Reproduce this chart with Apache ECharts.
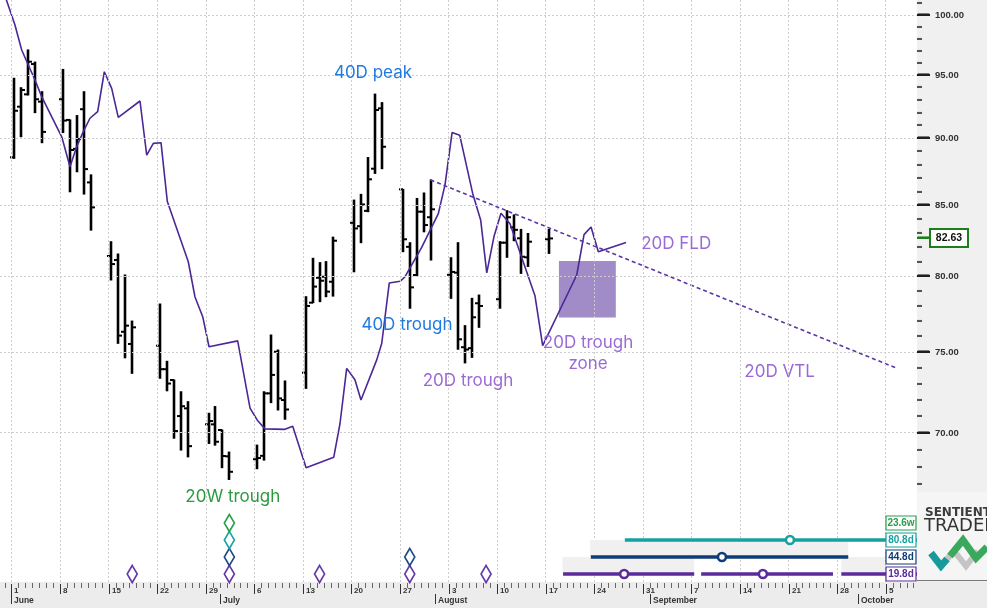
<!DOCTYPE html>
<html><head><meta charset="utf-8">
<script src="https://cdn.jsdelivr.net/npm/echarts@6/dist/echarts.min.js"></script>
<style>html,body{margin:0;padding:0;background:#fff}#c{width:987px;height:608px}</style>
</head><body><div id="c"></div>
<script>
// x values are calendar days counted from Monday 1 June (day 0)
// OHLC bars: [day, open, high, low, close]
const bars = [
 [0, 88.56, 94.74, 88.48, 92.15],
 [1, 92.47, 93.98, 90.13, 93.80],
 [2, 93.45, 97.06, 93.40, 96.09],
 [3, 95.90, 96.06, 92.00, 93.06],
 [4, 92.87, 93.66, 89.67, 90.50],
 [7, 93.06, 95.46, 90.45, 91.38],
 [8, 91.43, 91.43, 85.99, 89.11],
 [9, 89.20, 91.77, 87.47, 89.95],
 [10, 92.27, 93.66, 85.82, 87.67],
 [11, 86.68, 87.24, 83.22, 84.85],
 [14, 81.40, 82.40, 79.75, 80.84],
 [15, 81.12, 81.54, 75.55, 76.05],
 [16, 76.30, 80.09, 74.62, 76.70],
 [17, 75.51, 77.00, 73.64, 76.59],
 [21, 75.40, 78.13, 73.33, 73.90],
 [22, 73.90, 74.40, 72.55, 73.00],
 [23, 73.22, 73.22, 69.67, 70.10],
 [24, 71.00, 72.49, 68.97, 71.60],
 [25, 71.47, 71.88, 68.57, 69.20],
 [28, 70.50, 71.17, 69.36, 70.70],
 [29, 70.50, 71.58, 69.26, 69.46],
 [30, 70.16, 70.16, 67.94, 68.62],
 [31, 68.60, 68.85, 67.26, 67.70],
 [35, 68.43, 69.26, 67.88, 68.50],
 [36, 68.63, 72.49, 68.38, 72.39],
 [37, 72.39, 76.09, 71.82, 73.54],
 [38, 75.01, 75.12, 71.37, 72.08],
 [39, 71.98, 73.16, 70.81, 71.40],
 [42, 73.68, 78.62, 72.70, 78.00],
 [43, 78.22, 81.24, 78.22, 79.30],
 [44, 79.90, 80.94, 78.29, 79.70],
 [45, 79.97, 81.01, 78.62, 78.96],
 [46, 79.63, 82.72, 78.66, 82.47],
 [49, 83.74, 85.38, 80.31, 83.34],
 [50, 83.50, 85.80, 82.33, 85.06],
 [51, 84.60, 88.54, 84.54, 86.91],
 [52, 87.70, 93.47, 87.35, 92.21],
 [53, 92.34, 92.79, 87.70, 89.36],
 [56, 86.17, 86.17, 81.70, 82.57],
 [57, 82.04, 82.33, 77.85, 79.25],
 [58, 80.09, 85.50, 80.02, 84.54],
 [59, 84.54, 85.90, 83.10, 83.58],
 [60, 84.14, 86.86, 81.12, 84.71],
 [63, 80.10, 81.28, 78.51, 80.30],
 [64, 80.25, 82.33, 75.17, 75.81],
 [65, 75.30, 76.70, 74.30, 75.15],
 [66, 75.24, 78.51, 74.65, 77.25],
 [67, 78.18, 78.73, 76.59, 78.00],
 [70, 78.45, 82.40, 77.85, 82.33],
 [71, 82.33, 84.61, 81.31, 84.14],
 [72, 83.42, 84.31, 82.47, 83.24],
 [73, 82.64, 83.27, 80.20, 81.35],
 [74, 81.31, 82.98, 80.68, 82.40],
 [77, 82.57, 83.27, 81.58, 82.63]
];
const lastPrice = 82.63;

// 20D FLD line: [day, price]
const fld = [
 [-1.7, 103.0], [0.5, 99.15], [1.47, 97.06], [2.42, 95.82], [3.39, 94.6], [4.35, 93.26],
 [7.24, 90.12], [8.43, 87.85], [9.4, 89.37], [10.35, 90.52], [11.31, 91.56], [12.42, 92.08],
 [13.38, 95.27], [14.44, 93.93], [15.39, 91.63], [18.52, 92.92], [19.49, 88.73], [20.44, 89.62],
 [21.55, 89.67], [22.46, 85.27], [25.48, 81.0], [26.45, 78.6], [27.56, 77.29], [28.47, 75.33],
 [32.6, 75.71], [34.38, 71.48], [35.43, 70.75], [36.54, 70.23], [39.42, 70.2], [40.53, 70.39],
 [42.46, 67.94], [46.45, 68.55], [47.35, 70.55], [48.31, 73.95], [49.5, 73.24], [50.37, 71.98],
 [52.64, 74.49], [53.36, 75.54], [54.45, 79.55], [56.0, 79.66], [56.7, 79.96], [59.12, 82.0],
 [61.52, 84.4], [62.48, 86.5], [63.5, 90.45], [64.6, 90.25], [66.47, 85.87], [67.63, 83.92],
 [68.5, 80.24], [69.54, 82.76], [70.55, 84.43], [71.85, 83.67], [75.45, 78.68], [76.56, 75.4],
 [81.47, 80.09], [82.52, 82.9], [83.53, 83.44], [84.58, 81.7], [88.57, 82.35]
];

// 20D VTL (valid trend line) end points
const vtl = [[60.4, 86.86], [127.5, 73.98]];
// 20D trough zone: [startDay, topPrice], [endDay, bottomPrice]
const troughZone = [[78.9, 81.05], [87.1, 77.23]];

// annotations
const annoTexts = ['40D peak', '40D trough', '20D trough', '20D trough\nzone', '20D FLD', '20D VTL', '20W trough'];
const annoDays = [52.1, 57.0, 65.8, 83.1, 95.8, 110.7, 31.9];
const annoPrices = [95.16, 76.74, 73.16, 74.93, 82.24, 73.72, 66.26];
const annoColors = ['#1f7be0', '#1f7be0', '#9a6ad6', '#9a6ad6', '#9a6ad6', '#9a6ad6', '#2a9a3e'];

// cycle trough markers (diamonds), by cycle
const marks20D = [17, 31, 44, 57, 68];
const marks40D = [31, 57];
const marks80D = [31];
const marks20W = [31];

// phasing cycle ranges (bottom right)
const cycleLabels = ['19.8d', '44.8d', '80.8d', '23.6w'];
const cycleColors = ['#5b2b9c', '#0f3c78', '#17a0a0', '#27a04a'];
const cycleSegments = [[[79.5, 98.4], [99.4, 118.4], [119.6, 130.5]], [[83.5, 120.6]], [[88.4, 130.5]], []];
const cycleCircles = [[88.3, 108.3], [102.4], [112.2], []];
const cycleBands = [[[79.4, 98.4], [119.6, 125.9]], [[83.4, 120.6]], [], []];

// axis ticks
const priceTicks = [70, 75, 80, 85, 90, 95, 100];
const weekDays = [0, 7, 14, 21, 28, 35, 42, 49, 56, 63, 70, 77, 84, 91, 98, 105, 112, 119, 126];
const weekLabels = ['1', '8', '15', '22', '29', '6', '13', '20', '27', '3', '10', '17', '24', '31', '7', '14', '21', '28', '5'];
const monthDays = [0, 30, 61, 92, 122];
const monthNames = ['June', 'July', 'August', 'September', 'October'];

// ---------------------------------------------------------------
const X_MIN = -1.657, X_MAX = 130.51;
const BAR_SHIFT = 0.4;
const minorPriceTicks = [];
for (let v = 67; v <= 101; v++) minorPriceTicks.push(v);
const stripDays = [];
for (let d = -1; d <= 130; d++) stripDays.push(d);

const chart = echarts.init(document.getElementById('c'), null, {renderer: 'canvas'});

function ohlcItem(params, api) {
  const d = api.value(0) + BAR_SHIFT;
  const pO = api.coord([d, api.value(1)]);
  const pH = api.coord([d, api.value(2)]);
  const pL = api.coord([d, api.value(3)]);
  const pC = api.coord([d, api.value(4)]);
  const x = Math.round(pH[0]);
  return {type: 'group', children: [
    {type: 'line', shape: {x1: x, y1: pH[1] - 0.5, x2: x, y2: pL[1] + 0.5}, style: {stroke: '#000', lineWidth: 2.6}},
    {type: 'line', shape: {x1: x - 4, y1: pO[1], x2: x, y2: pO[1]}, style: {stroke: '#000', lineWidth: 2}},
    {type: 'line', shape: {x1: x, y1: pC[1], x2: x + 4, y2: pC[1]}, style: {stroke: '#000', lineWidth: 2}}
  ]};
}

function annoItem(params, api) {
  const p = api.coord([api.value(0), api.value(1)]);
  const i = params.dataIndex;
  return {type: 'text', x: p[0], y: p[1], style: {
    text: annoTexts[i], fill: annoColors[i], font: '17px Inter', align: 'center', verticalAlign: 'middle', lineHeight: 21
  }};
}

function panelItem(params, api) {
  const cs = params.coordSys;
  const xr = cs.x + cs.width, yb = cs.y + cs.height;
  return {type: 'group', children: [
    {type: 'rect', shape: {x: 0, y: yb, width: 987, height: 608 - yb}, style: {fill: '#ececec'}},
    {type: 'rect', shape: {x: xr, y: 0, width: 987 - xr, height: yb}, style: {fill: '#f0f0f0'}},
    {type: 'rect', shape: {x: xr, y: 492, width: 987 - xr, height: yb - 494}, style: {fill: '#f5f5f5'}},
    {type: 'rect', shape: {x: xr, y: yb - 2, width: 987 - xr, height: 1}, style: {fill: '#777'}},
    {type: 'text', x: xr + 8, y: 513, style: {text: 'SENTIENT', fill: '#3c3c3c', font: 'bold 12px "DejaVu Sans"', verticalAlign: 'middle'}},
    {type: 'text', x: xr + 7, y: 526.5, style: {text: 'TRADER', fill: '#333', font: '18px "DejaVu Sans"', verticalAlign: 'middle'}},
    {type: 'polyline', shape: {points: [[xr + 24, 566], [xr + 37, 551], [xr + 49, 566], [xr + 61, 551]]}, style: {stroke: '#c4c4c4', lineWidth: 6, fill: null}},
    {type: 'polyline', shape: {points: [[xr + 14, 553], [xr + 24, 566], [xr + 30, 559]]}, style: {stroke: '#189a9c', lineWidth: 7, fill: null}},
    {type: 'polyline', shape: {points: [[xr + 33, 556], [xr + 46, 540], [xr + 59, 558], [xr + 70, 547]]}, style: {stroke: '#3aa95e', lineWidth: 7, fill: null}}
  ]};
}

function xStripItem(params, api) {
  const d = api.value(0);
  const x = Math.round(api.coord([d, 80])[0]);
  const y0 = params.coordSys.y + params.coordSys.height;
  const ch = [];
  const wi = weekDays.indexOf(d);
  if (wi >= 0) {
    ch.push({type: 'rect', shape: {x: x, y: y0 + 2, width: 1, height: 10}, style: {fill: '#333'}});
    ch.push({type: 'text', x: x + 3, y: y0 + 8.5, style: {text: weekLabels[wi], fill: '#333', font: 'bold 8px "Liberation Sans"', align: 'left', verticalAlign: 'middle'}});
  } else {
    ch.push({type: 'rect', shape: {x: x, y: y0 + 1, width: 1, height: 5}, style: {fill: '#666'}});
  }
  const mi = monthDays.indexOf(d);
  if (mi >= 0) {
    ch.push({type: 'rect', shape: {x: x, y: y0 + 12, width: 1, height: 10}, style: {fill: '#333'}});
    ch.push({type: 'text', x: x + 3, y: y0 + 18.5, style: {text: monthNames[mi], fill: '#333', font: 'bold 8.5px "Liberation Sans"', align: 'left', verticalAlign: 'middle'}});
  }
  return {type: 'group', children: ch};
}

function cycleItem(params, api) {
  const i = params.dataIndex;
  const row = api.value(1);
  const color = cycleColors[i];
  const cs = params.coordSys;
  const yC = api.coord([0, row])[1];
  const yB = api.coord([0, row + 1])[1];
  const ch = [];
  cycleBands[i].forEach(b => {
    const a = api.coord([b[0], row])[0], e = api.coord([b[1], row])[0];
    ch.push({type: 'rect', shape: {x: a, y: yB, width: e - a, height: yC - yB}, style: {fill: '#f0f0f0'}});
  });
  cycleSegments[i].forEach(s => {
    const a = api.coord([s[0], row])[0], e = api.coord([s[1], row])[0];
    ch.push({type: 'line', shape: {x1: a, y1: yC, x2: e, y2: yC}, style: {stroke: color, lineWidth: 3.3}});
  });
  cycleCircles[i].forEach(c => {
    const p = api.coord([c, row]);
    ch.push({type: 'circle', shape: {cx: p[0], cy: p[1], r: 4}, style: {fill: '#fff', stroke: color, lineWidth: 2.6}});
  });
  const bx = cs.x + cs.width - 31;
  ch.push({type: 'rect', shape: {x: bx, y: yC - 7, width: 30, height: 14}, style: {fill: '#fff', stroke: color, lineWidth: 1.2}});
  ch.push({type: 'text', x: bx + 15, y: yC + 0.5, style: {text: cycleLabels[i], fill: color, font: 'bold 10px "Liberation Sans"', align: 'center', verticalAlign: 'middle'}});
  return {type: 'group', children: ch};
}

function diamondSeries(days, row, color) {
  return {
    type: 'scatter', yAxisIndex: 1, symbol: 'diamond', symbolSize: [10, 17], z: 6, silent: true,
    itemStyle: {color: '#fff', borderColor: color, borderWidth: 1.8, opacity: 1},
    data: days.map(d => [d + BAR_SHIFT, row])
  };
}

const option = {
  animation: false,
  backgroundColor: '#fff',
  grid: {left: 0, right: 70, top: 0, bottom: 26, containLabel: false},
  xAxis: {type: 'value', min: X_MIN, max: X_MAX, show: false},
  yAxis: [
    {type: 'log', logBase: 10, min: 61.62, max: 101.29, show: false},
    {type: 'value', min: -0.4706, max: 33.765, show: false}
  ],
  series: [
    {type: 'custom', z: 0, renderItem: panelItem, silent: true, data: [[0, 80]]},
    {
      type: 'line', z: 1, data: [[0, 80]], showSymbol: false, silent: true, lineStyle: {width: 0},
      markLine: {
        silent: true, symbol: ['none', 'none'], label: {show: false}, animation: false,
        lineStyle: {color: '#cdcdcd', type: [2, 2], width: 1},
        data: weekDays.map(d => ({xAxis: d})).concat(priceTicks.map(v => ({yAxis: v})))
      },
      markArea: {
        silent: true, animation: false, itemStyle: {color: '#a18cc8', opacity: 1},
        data: [[{coord: troughZone[0]}, {coord: troughZone[1]}]]
      }
    },
    {type: 'custom', z: 3, renderItem: ohlcItem, data: bars, encode: {x: 0, y: [1, 2, 3, 4]}, silent: true},
    {type: 'line', z: 4, data: fld, showSymbol: false, silent: true, lineStyle: {color: '#4b2896', width: 1.6}},
    {type: 'line', z: 4, data: vtl, showSymbol: false, silent: true, lineStyle: {color: '#5a36a6', width: 1.6, type: [4, 3]}},
    {type: 'custom', z: 5, renderItem: annoItem, silent: true, data: annoDays.map((d, i) => [d, annoPrices[i]])},
    diamondSeries(marks20D, 0, '#6537a8'),
    diamondSeries(marks40D, 1, '#1b4a86'),
    diamondSeries(marks80D, 2, '#19a3a3'),
    diamondSeries(marks20W, 3, '#26a046'),
    {type: 'custom', z: 5, yAxisIndex: 1, renderItem: cycleItem, silent: true, data: cycleLabels.map((l, i) => [X_MAX, i])},
    {type: 'custom', z: 5, renderItem: xStripItem, silent: true, data: stripDays.map(d => [d, 80])}
  ]
};
chart.setOption(option);

// right price axis (ticks, labels, last-price tag) placed through the chart's own y scale
const xr = Math.round(chart.convertToPixel({xAxisIndex: 0}, X_MAX));
const axisEls = [];
minorPriceTicks.forEach(v => {
  const y = Math.round(chart.convertToPixel({yAxisIndex: 0}, v));
  const major = priceTicks.indexOf(v) >= 0;
  const col = major ? '#1e1e1e' : '#555';
  axisEls.push({type: 'rect', z: 100, silent: true, shape: {x: xr, y: y - 1, width: major ? 13 : 5, height: 2}, style: {fill: col}});
  // glyph-drawn copy of the same tick, so the tick shows even where plain paths are hidden
  axisEls.push({type: 'text', z: 100, silent: true, x: xr, y: y, style: {
    text: major ? '\u2014' : '\u2013', fill: col, font: major ? 'bold 13px "DejaVu Sans"' : 'bold 10px "DejaVu Sans"',
    align: 'left', verticalAlign: 'middle'}});
  if (major) {
    axisEls.push({type: 'text', z: 100, silent: true, x: xr + 18, y: y, style: {text: v.toFixed(2), fill: '#333', font: 'bold 9.5px "Liberation Sans"', align: 'left', verticalAlign: 'middle'}});
  }
});
const yTag = Math.round(chart.convertToPixel({yAxisIndex: 0}, lastPrice));
axisEls.push({type: 'rect', z: 101, silent: true, shape: {x: xr, y: yTag - 1, width: 13, height: 2}, style: {fill: '#1b7d1b'}});
axisEls.push({type: 'text', z: 101, silent: true, x: xr, y: yTag, style: {text: '\u2014', fill: '#1b7d1b', font: 'bold 13px "DejaVu Sans"', align: 'left', verticalAlign: 'middle'}});
axisEls.push({type: 'rect', z: 101, silent: true, shape: {x: xr + 13, y: yTag - 9, width: 38, height: 18}, style: {fill: '#fff', stroke: '#1b7d1b', lineWidth: 2}});
axisEls.push({type: 'text', z: 102, silent: true, x: xr + 32, y: yTag, style: {text: lastPrice.toFixed(2), fill: '#111', font: 'bold 10.5px "Liberation Sans"', align: 'center', verticalAlign: 'middle'}});
chart.setOption({graphic: axisEls});
</script>
</body></html>
